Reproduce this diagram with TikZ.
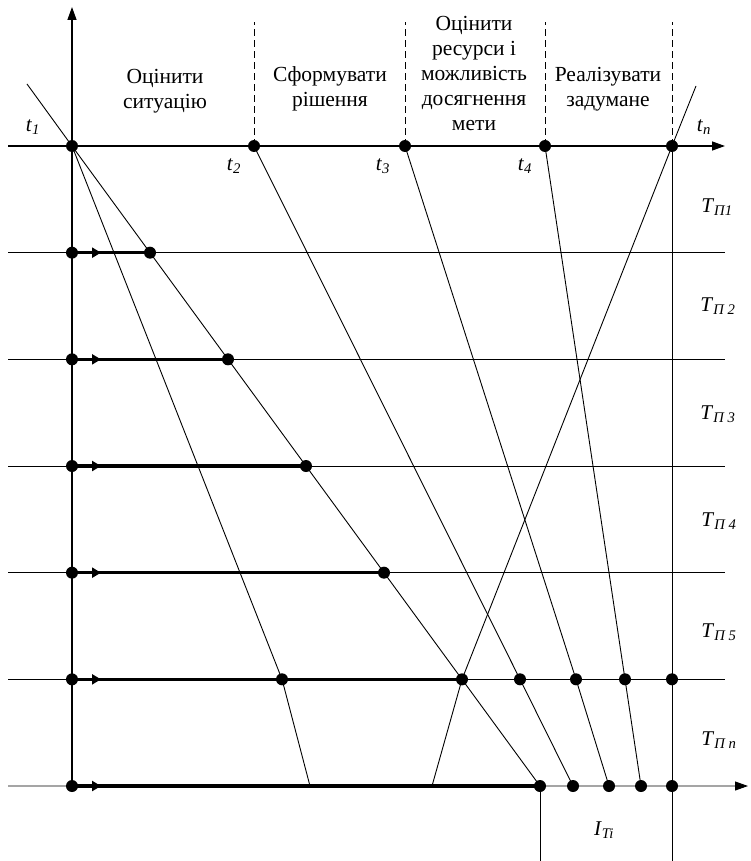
\documentclass[tikz,border=0pt]{standalone}
\usepackage{fontspec}
\setmainfont{Liberation Serif}
\usetikzlibrary{arrows.meta}

\newcommand{\sub}[2]{\textit{#1}\textsubscript{\textit{#2}}}

\begin{document}
\begin{tikzpicture}[x=1pt,y=-1pt,
    ln/.style={line width=0.9pt},
    axisln/.style={line width=1.4pt,-{Triangle[length=13pt,width=9pt]}},
    boldln/.style={line width=3.4pt},
    dashln/.style={line width=0.9pt,dash pattern=on 7pt off 4pt},
    pnt/.style={circle,fill=black,inner sep=0pt,minimum size=12pt},
    phase/.style={align=center,font=\fontsize{21.5}{25}\selectfont},
    lbl/.style={font=\fontsize{21}{22}\selectfont}]
    \useasboundingbox (0,0) rectangle (750,861);
    % time axis
    \coordinate (O) at (72,146);
    \coordinate (T2) at (254,146);
    \coordinate (T3) at (405,146);
    \coordinate (T4) at (545,146);
    \coordinate (Tn) at (672,146);
    \coordinate (Ytop) at (72,7);
    \coordinate (Xl) at (8,146);
    \coordinate (Xr) at (725,146);
    \foreach \k in {1,...,6}{
        \coordinate (R\k) at (72,146+106.67*\k);
        \coordinate (D\k) at (72+78*\k,146+106.67*\k);
        \coordinate (L\k) at (8,146+106.67*\k);
        \coordinate (E\k) at (725,146+106.67*\k);
    }
    \coordinate (Rend) at (748,786);
    \coordinate (A5) at (282,679.3);
    \coordinate (A6) at (310,786);
    \coordinate (B5) at (520,679.3);
    \coordinate (B6) at (573,786);
    \coordinate (C5) at (576,679.3);
    \coordinate (C6) at (609,786);
    \coordinate (G5) at (625,679.3);
    \coordinate (G6) at (641,786);
    \coordinate (N5) at (672,679.3);
    \coordinate (N6) at (672,786);
    \coordinate (K6) at (432,786);
    \coordinate (Ftop) at (27,84);
    \coordinate (Ntop) at (696,86);
    \coordinate (Nbot) at (672,861);
    \coordinate (Ibot) at (540,861);

    % grid
    \foreach \k in {1,...,5}
        \draw[ln] (L\k) -- (E\k);
    \draw[axisln,line width=0.9pt] (L6) -- (Rend);
    \draw[axisln] (R6) -- (Ytop);
    \draw[axisln] (Xl) -- (Xr);
    \draw[ln] (Tn) -- (Nbot);
    \draw[ln] (D6) -- (Ibot);
    \foreach \p in {T2,T3,T4,Tn}
        \draw[dashln] (\p) -- ++(0,-124);

    % slanted lines
    \draw[ln] (Ftop) -- (O) -- (D6);
    \draw[ln] (O) -- (A5) -- (A6);
    \draw[ln] (T2) -- (B5) -- (B6);
    \draw[ln] (T3) -- (C5) -- (C6);
    \draw[ln] (T4) -- (G5) -- (G6);
    \draw[ln] (Ntop) -- (Tn) -- (D5) -- (K6);

    % bold segments
    \foreach \k in {1,...,6}{
        \draw[boldln] (R\k) -- (D\k);
        \draw[boldln,-{Triangle[length=9pt,width=10pt]}] (R\k) -- ++(29,0);
    }

    % points
    \foreach \p in {O,T2,T3,T4,Tn,R1,R2,R3,R4,R5,R6,D1,D2,D3,D4,D5,D6,A5,B5,B6,C5,C6,G5,G6,N5,N6}
        \node[pnt] at (\p) {};

    % labels
    \node[lbl] (lt1) at (33,127) {\sub{t}{1}};
    \node[lbl] (lt2) at (234,166) {\sub{t}{2}};
    \node[lbl] (lt3) at (383,166) {\sub{t}{3}};
    \node[lbl] (lt4) at (525,166) {\sub{t}{4}};
    \node[lbl] (ltn) at (704,127) {\sub{t}{n}};
    \node[lbl] (P1) at (717,207) {\sub{T}{П1}};
    \node[lbl] (P2) at (718,306) {\sub{T}{П 2}};
    \node[lbl] (P3) at (718,414) {\sub{T}{П 3}};
    \node[lbl] (P4) at (719,521) {\sub{T}{П 4}};
    \node[lbl] (P5) at (719,632) {\sub{T}{П 5}};
    \node[lbl] (Pn) at (719,740) {\sub{T}{П n}};
    \node[lbl] (ITi) at (604,830) {\sub{I}{Ti}};

    \node[phase] (ph1) at (165,91) {Оцінити\\ситуацію};
    \node[phase] (ph2) at (330,89) {Сформувати\\рішення};
    \node[phase] (ph3) at (474,73) {Оцінити\\ресурси і\\можливість\\досягнення\\мети};
    \node[phase] (ph4) at (608,89) {Реалізувати\\задумане};
\end{tikzpicture}
\end{document}
